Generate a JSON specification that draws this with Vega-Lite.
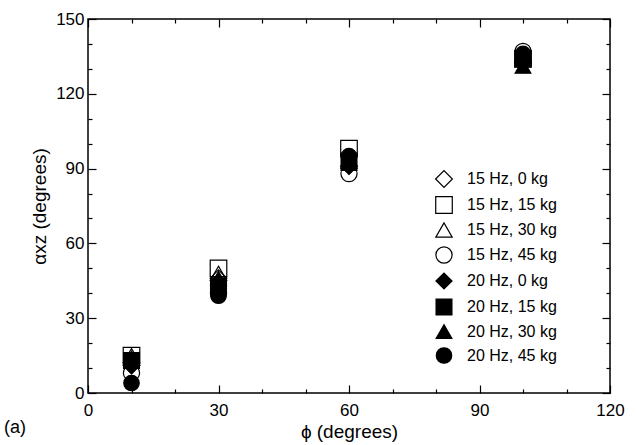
{
  "$schema": "https://vega.github.io/schema/vega-lite/v6.json",
  "autosize": {"type": "none"},
  "padding": {"left": 88, "top": 19, "right": 27, "bottom": 52},
  "width": 522,
  "height": 374,
  "background": "white",
  "config": {
    "font": "Liberation Sans",
    "view": {"stroke": "black", "strokeWidth": 1.5},
    "axis": {"domain": false, "tickColor": "black", "tickWidth": 1.2, "labelColor": "black", "titleColor": "black", "labelFontSize": 17, "titleFontSize": 19, "titleFontWeight": "normal", "grid": false, "labelFont": "Liberation Sans", "titleFont": "Liberation Sans"}
  },
  "title": {"text": "(a)", "orient": "bottom", "anchor": "start", "frame": "group", "dx": -84, "offset": -22, "fontSize": 18, "fontWeight": "normal", "font": "Liberation Sans", "color": "black"},
  "data": {"values": [
    {"phi": 10, "alpha": 11, "series": "15 Hz, 0 kg"},
    {"phi": 10, "alpha": 15, "series": "15 Hz, 15 kg"},
    {"phi": 10, "alpha": 15, "series": "15 Hz, 30 kg"},
    {"phi": 10, "alpha": 8, "series": "15 Hz, 45 kg"},
    {"phi": 10, "alpha": 11, "series": "20 Hz, 0 kg"},
    {"phi": 10, "alpha": 13, "series": "20 Hz, 15 kg"},
    {"phi": 10, "alpha": 14, "series": "20 Hz, 30 kg"},
    {"phi": 10, "alpha": 4, "series": "20 Hz, 45 kg"},
    {"phi": 30, "alpha": 46, "series": "15 Hz, 0 kg"},
    {"phi": 30, "alpha": 50, "series": "15 Hz, 15 kg"},
    {"phi": 30, "alpha": 48, "series": "15 Hz, 30 kg"},
    {"phi": 30, "alpha": 40, "series": "15 Hz, 45 kg"},
    {"phi": 30, "alpha": 44, "series": "20 Hz, 0 kg"},
    {"phi": 30, "alpha": 43, "series": "20 Hz, 15 kg"},
    {"phi": 30, "alpha": 46, "series": "20 Hz, 30 kg"},
    {"phi": 30, "alpha": 39, "series": "20 Hz, 45 kg"},
    {"phi": 60, "alpha": 91, "series": "15 Hz, 0 kg"},
    {"phi": 60, "alpha": 98, "series": "15 Hz, 15 kg"},
    {"phi": 60, "alpha": 93, "series": "15 Hz, 30 kg"},
    {"phi": 60, "alpha": 88, "series": "15 Hz, 45 kg"},
    {"phi": 60, "alpha": 91, "series": "20 Hz, 0 kg"},
    {"phi": 60, "alpha": 93, "series": "20 Hz, 15 kg"},
    {"phi": 60, "alpha": 92, "series": "20 Hz, 30 kg"},
    {"phi": 60, "alpha": 95, "series": "20 Hz, 45 kg"},
    {"phi": 100, "alpha": 133, "series": "15 Hz, 0 kg"},
    {"phi": 100, "alpha": 134, "series": "15 Hz, 15 kg"},
    {"phi": 100, "alpha": 135, "series": "15 Hz, 30 kg"},
    {"phi": 100, "alpha": 137, "series": "15 Hz, 45 kg"},
    {"phi": 100, "alpha": 133, "series": "20 Hz, 0 kg"},
    {"phi": 100, "alpha": 134, "series": "20 Hz, 15 kg"},
    {"phi": 100, "alpha": 131, "series": "20 Hz, 30 kg"},
    {"phi": 100, "alpha": 136, "series": "20 Hz, 45 kg"}
  ]},
  "layer": [
    {
      "mark": {"type": "point", "stroke": "black", "strokeWidth": 1.2, "opacity": 1},
      "encoding": {
        "x": {"field": "phi", "type": "quantitative", "scale": {"domain": [0, 120], "nice": false},
          "axis": {"orient": "bottom", "values": [0, 30, 60, 90, 120], "ticks": false, "labelPadding": 9, "title": "ϕ (degrees)", "titlePadding": 4, "labelFlush": false}},
        "y": {"field": "alpha", "type": "quantitative", "scale": {"domain": [0, 150], "nice": false},
          "axis": {"orient": "left", "values": [0, 30, 60, 90, 120, 150], "ticks": false, "labelPadding": 4, "title": "αxz (degrees)", "titlePadding": 6, "labelFlush": false}},
        "shape": {"field": "series", "type": "nominal", "scale": {"domain": ["15 Hz, 0 kg","15 Hz, 15 kg","15 Hz, 30 kg","15 Hz, 45 kg","20 Hz, 0 kg","20 Hz, 15 kg","20 Hz, 30 kg","20 Hz, 45 kg"], "range": ["diamond","square","triangle-up","circle","diamond","square","triangle-up","circle"]},
          "legend": {"title": null, "orient": "none", "legendX": 347, "legendY": 151, "labelFontSize": 16, "labelFont": "Liberation Sans", "labelColor": "black", "rowPadding": 4, "labelOffset": 14, "symbolStrokeColor": "black", "symbolStrokeWidth": 1.2, "symbolOpacity": 1}},
        "fill": {"field": "series", "type": "nominal", "scale": {"domain": ["15 Hz, 0 kg","15 Hz, 15 kg","15 Hz, 30 kg","15 Hz, 45 kg","20 Hz, 0 kg","20 Hz, 15 kg","20 Hz, 30 kg","20 Hz, 45 kg"], "range": ["transparent","transparent","transparent","transparent","black","black","black","black"]}},
        "size": {"field": "series", "type": "nominal", "scale": {"domain": ["15 Hz, 0 kg","15 Hz, 15 kg","15 Hz, 30 kg","15 Hz, 45 kg","20 Hz, 0 kg","20 Hz, 15 kg","20 Hz, 30 kg","20 Hz, 45 kg"], "range": [280, 240, 360, 340, 170, 140, 220, 200]}}
      }
    },
    {
      "mark": {"type": "point", "opacity": 0},
      "encoding": {
        "x": {"field": "phi", "type": "quantitative",
          "axis": {"orient": "bottom", "values": [0,10,20,30,40,50,60,70,80,90,100,110,120], "labels": false, "title": null, "tickSize": {"condition": {"test": "datum.value % 30 === 0", "value": -8}, "value": -4}}},
        "y": {"field": "alpha", "type": "quantitative",
          "axis": {"orient": "left", "values": [0,10,20,30,40,50,60,70,80,90,100,110,120,130,140,150], "labels": false, "title": null, "tickSize": {"condition": {"test": "datum.value % 30 === 0", "value": -8}, "value": -4}}}
      }
    },
    {
      "mark": {"type": "point", "opacity": 0},
      "encoding": {
        "x": {"field": "phi", "type": "quantitative",
          "axis": {"orient": "top", "values": [0,10,20,30,40,50,60,70,80,90,100,110,120], "labels": false, "title": null, "tickSize": {"condition": {"test": "datum.value % 30 === 0", "value": -8}, "value": -4}}},
        "y": {"field": "alpha", "type": "quantitative",
          "axis": {"orient": "right", "values": [0,10,20,30,40,50,60,70,80,90,100,110,120,130,140,150], "labels": false, "title": null, "tickSize": {"condition": {"test": "datum.value % 30 === 0", "value": -8}, "value": -4}}}
      }
    }
  ],
  "resolve": {"axis": {"x": "independent", "y": "independent"}}
}
